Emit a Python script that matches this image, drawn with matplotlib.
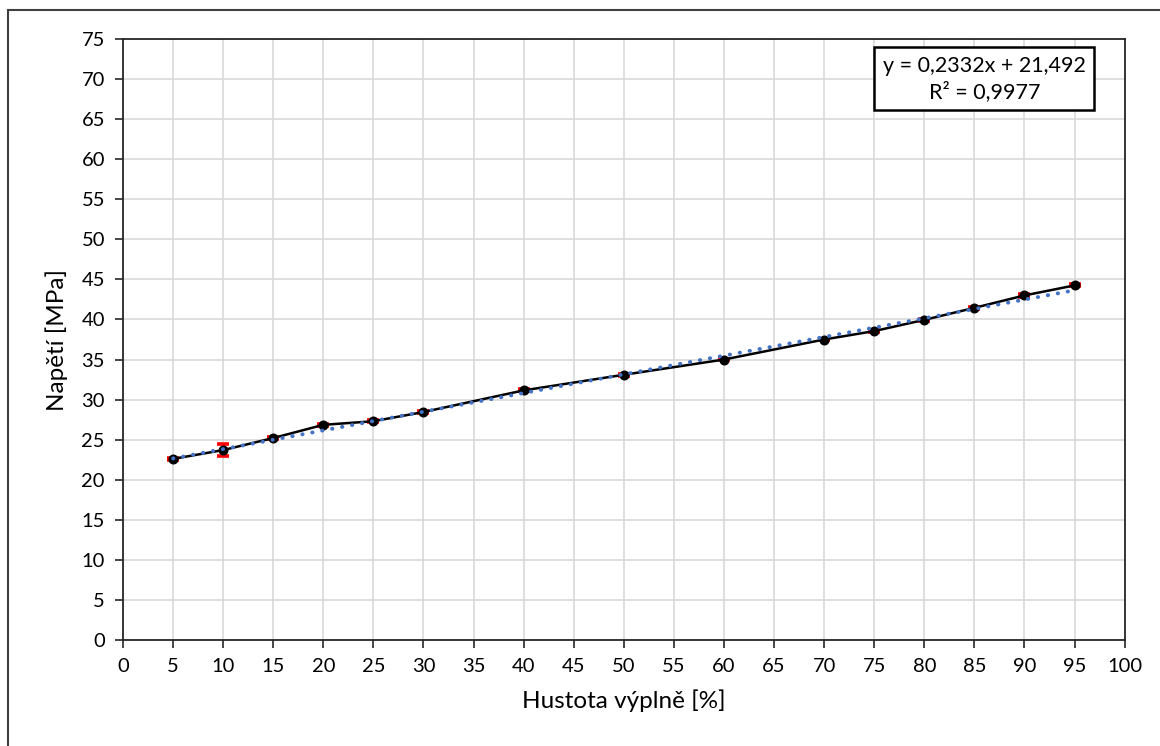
import numpy as np
import matplotlib.pyplot as plt
from matplotlib.patches import Rectangle

plt.rcParams['font.family'] = ['Lato', 'DejaVu Sans']

# infill density [%] and stress [MPa]
infill = [5, 10, 15, 20, 25, 30, 40, 50, 60, 70, 75, 80, 85, 90, 95]
stress = [22.6, 23.7, 25.2, 26.85, 27.3, 28.45, 31.15, 33.1, 35.0, 37.5, 38.55, 39.95, 41.45, 43.0, 44.25]
stress_err = [0.12, 0.7, 0.12, 0.15, 0.1, 0.12, 0.12, 0.1, 0.1, 0.12, 0.12, 0.1, 0.1, 0.15, 0.12]

# linear trend from the chart
slope = 0.2332
intercept = 21.492
r2 = 0.9977

fig = plt.figure(figsize=(11.6, 7.46), dpi=100)
ax = fig.add_axes([0.106, 0.1421, 0.8635, 0.8056])

ax.errorbar(infill, stress, yerr=stress_err, color='black', lw=1.8,
            marker='o', ms=6.2, mfc='black', mec='black',
            ecolor='#FF0000', elinewidth=2.4, capsize=4.6, capthick=2.6, zorder=3)

xt = np.array([infill[0], infill[-1]])
xs = np.linspace(xt[0], xt[1], 50)
ax.plot(xs, slope * xs + intercept, color='#4472C4', lw=2.8,
        linestyle=(0, (0.1, 2.5)), dash_capstyle='round', zorder=4)

ax.set_xlim(0, 100)
ax.set_ylim(0, 75)
ax.set_xticks(np.arange(0, 101, 5))
ax.set_yticks(np.arange(0, 76, 5))
ax.grid(True, color='#D9D9D9', lw=1.2)
ax.set_axisbelow(True)
for s in ax.spines.values():
    s.set_color('#262626')
    s.set_linewidth(1.3)
ax.tick_params(direction='out', length=6, width=1.2, color='#262626',
               labelsize=14.5, pad=7)

ax.set_xlabel('Hustota výplně [%]', fontsize=17.5, labelpad=10)
ax.set_ylabel('Napětí [MPa]', fontsize=17.5, labelpad=10)

ax.text(0.860, 0.972, f'y = {slope:.4f}x + {intercept:.3f}'.replace('.', ',') + '\n'
        + f'R² = {r2:.4f}'.replace('.', ','),
        transform=ax.transAxes, ha='center', va='top', fontsize=15.5, linespacing=1.3,
        bbox=dict(boxstyle='square,pad=0.4', fc='white', ec='black', lw=1.8), zorder=5)

# outer chart border
fig.patches.append(Rectangle((8 / 1160, -0.1), 1.2, 1 - 10 / 746 + 0.1,
                             transform=fig.transFigure, fill=False,
                             ec='#404040', lw=1.5))

plt.savefig('out.png', dpi=100)
